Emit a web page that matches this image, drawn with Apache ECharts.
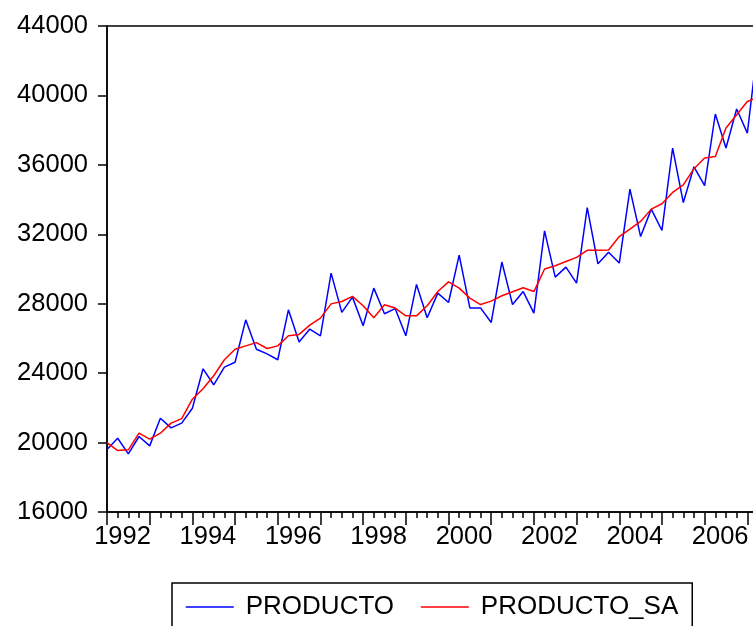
<!DOCTYPE html>
<html>
<head>
<meta charset="utf-8">
<script src="https://cdn.jsdelivr.net/npm/echarts@6/dist/echarts.min.js"></script>
<style>
html,body{margin:0;padding:0;background:#fff;overflow:hidden;width:753px;height:626px;}
#c{width:758px;height:626px;}
</style>
</head>
<body>
<div id="c"></div>
<script>
var quarters = [
 '1992Q1','1992Q2','1992Q3','1992Q4','1993Q1','1993Q2','1993Q3','1993Q4',
 '1994Q1','1994Q2','1994Q3','1994Q4','1995Q1','1995Q2','1995Q3','1995Q4',
 '1996Q1','1996Q2','1996Q3','1996Q4','1997Q1','1997Q2','1997Q3','1997Q4',
 '1998Q1','1998Q2','1998Q3','1998Q4','1999Q1','1999Q2','1999Q3','1999Q4',
 '2000Q1','2000Q2','2000Q3','2000Q4','2001Q1','2001Q2','2001Q3','2001Q4',
 '2002Q1','2002Q2','2002Q3','2002Q4','2003Q1','2003Q2','2003Q3','2003Q4',
 '2004Q1','2004Q2','2004Q3','2004Q4','2005Q1','2005Q2','2005Q3','2005Q4',
 '2006Q1','2006Q2','2006Q3','2006Q4','2007Q1','2007Q2'
];
var producto = [
 19600,20250,19350,20350,19810,21400,20850,21120,
 21980,24250,23330,24350,24630,27070,25380,25110,
 24770,27650,25790,26540,26150,29760,27500,28380,
 26730,28900,27420,27720,26150,29110,27190,28610,
 28070,30800,27760,27760,26920,30400,27950,28700,
 27460,32200,29530,30110,29190,33530,30300,30970,
 30340,34600,31870,33450,32220,36970,33830,35890,
 34800,38930,36970,39220,37830,43000
];
var productoSA = [
 20000,19540,19580,20540,20200,20540,21120,21380,
 22500,23100,23850,24770,25380,25570,25760,25420,
 25570,26150,26230,26770,27170,27990,28130,28420,
 27880,27190,27940,27750,27300,27300,27880,28700,
 29260,28900,28320,27950,28150,28460,28690,28920,
 28700,30000,30190,30430,30670,31080,31080,31100,
 31870,32300,32740,33450,33760,34410,34850,35780,
 36390,36480,38120,38890,39650,39900
];
var yTicks = {min:16000, max:44000, step:4000};
var seriesNames = ['PRODUCTO','PRODUCTO_SA'];

var FONT = "'Liberation Sans', Arial, sans-serif";
var chart = echarts.init(document.getElementById('c'), null, {renderer:'canvas'});
chart.setOption({
  animation:false,
  backgroundColor:'#fff',
  grid:{left:107, top:26, right:0, bottom:114, show:true, borderColor:'#000', borderWidth:1.5, backgroundColor:'transparent'},
  legend:{
    left:172, top:583, orient:'horizontal',
    data:seriesNames,
    itemWidth:48, itemHeight:20, itemGap:26,
    itemStyle:{opacity:0},
    lineStyle:{width:1.5},
    padding:[11,14,20,13],
    borderColor:'#000', borderWidth:1.5,
    textStyle:{fontFamily:FONT, fontSize:26, color:'#000', padding:[0,0,0,7]}
  },
  xAxis:[{
    type:'category', data:quarters, boundaryGap:false,
    axisLine:{show:true, lineStyle:{color:'#000', width:1.5}},
    axisTick:{show:true, interval:0, length:6, lineStyle:{color:'#000', width:1.5}},
    axisLabel:{show:false},
    splitLine:{show:false}
  },{
    type:'category', data:quarters, boundaryGap:false, position:'bottom',
    axisLine:{show:false},
    axisTick:{show:true, length:13, lineStyle:{color:'#000', width:1.5},
      interval:function(i){return i%4===0;}},
    axisLabel:{show:true, fontFamily:FONT, fontSize:25.5, color:'#000', margin:12,
      padding:[0,0,0,31],
      interval:function(i){return i%8===0;},
      formatter:function(v){return v.slice(0,4);}},
    splitLine:{show:false}
  }],
  yAxis:{
    type:'value', min:yTicks.min, max:yTicks.max, interval:yTicks.step,
    axisLine:{show:true, lineStyle:{color:'#000', width:1.5}},
    axisTick:{show:true, length:9, lineStyle:{color:'#000', width:1.5}},
    axisLabel:{fontFamily:FONT, fontSize:25.5, color:'#000', margin:19,
      formatter:function(v){return String(v);}},
    splitLine:{show:false}
  },
  series:[{
    name:seriesNames[0], type:'line', data:producto, symbol:'none',
    lineStyle:{color:'#0000ff', width:1.5}, itemStyle:{color:'#0000ff'}, z:2
  },{
    name:seriesNames[1], type:'line', data:productoSA, symbol:'none',
    lineStyle:{color:'#ff0000', width:1.5}, itemStyle:{color:'#ff0000'}, z:3
  }]
});
</script>
</body>
</html>
